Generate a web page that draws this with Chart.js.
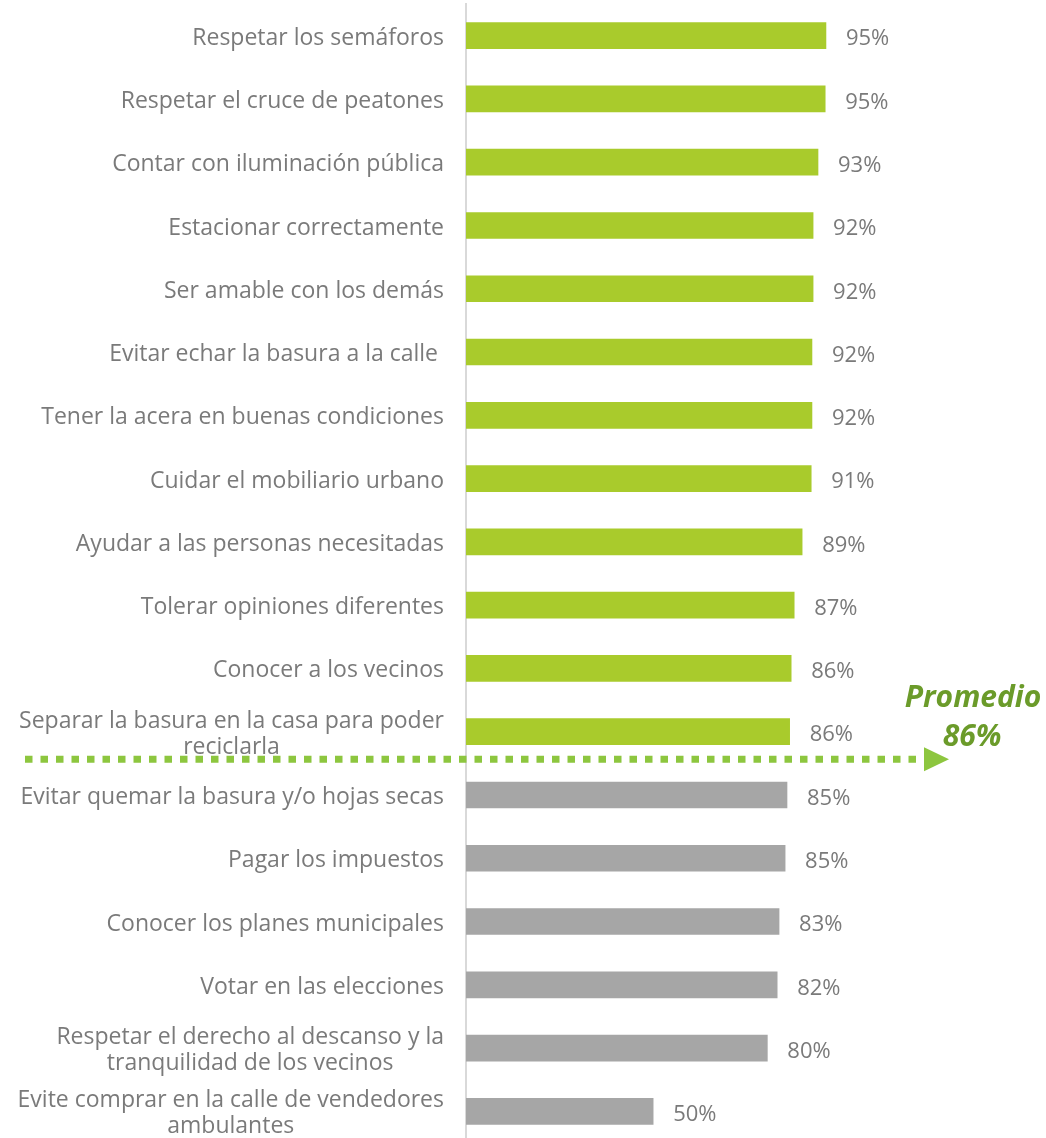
<!DOCTYPE html>
<html>
<head>
<meta charset="utf-8">
<script src="https://cdn.jsdelivr.net/npm/chart.js@4.4.1/dist/chart.umd.min.js"></script>
<style>
  html, body { margin: 0; padding: 0; background: #fff; overflow: hidden; }
  canvas { display: block; }
</style>
</head>
<body>
<canvas id="bar-civismo" width="1046" height="1143"></canvas>
<script>
const categories = [
  'Respetar los semáforos',
  'Respetar el cruce de peatones',
  'Contar con iluminación pública',
  'Estacionar correctamente',
  'Ser amable con los demás',
  'Evitar echar la basura a la calle ',
  'Tener la acera en buenas condiciones',
  'Cuidar el mobiliario urbano',
  'Ayudar a las personas necesitadas',
  'Tolerar opiniones diferentes',
  'Conocer a los vecinos',
  ['Separar la basura en la casa para poder', 'reciclarla'],
  'Evitar quemar la basura y/o hojas secas',
  'Pagar los impuestos',
  'Conocer los planes municipales',
  'Votar en las elecciones',
  ['Respetar el derecho al descanso y la', 'tranquilidad de los vecinos'],
  ['Evite comprar en la calle de vendedores', 'ambulantes']
];
const values = [95.2, 95.0, 93.1, 91.8, 91.8, 91.5, 91.5, 91.3, 88.9, 86.8, 86.0, 85.6, 84.9, 84.4, 82.8, 82.3, 79.7, 49.5];
const valueLabels = ['95%', '95%', '93%', '92%', '92%', '92%', '92%', '91%', '89%', '87%', '86%', '86%', '85%', '85%', '83%', '82%', '80%', '50%'];
const averageText = ['Promedio', '86%'];
const lastAboveAverage = 11; // index of last bar over the average line

const FONT = '"Open Sans", sans-serif';
const TEXT_GRAY = '#7a7a7a';

// category labels: right edge fixed, multi-line labels centred on their widest line
const categoryLabels = {
  id: 'categoryLabels',
  afterDraw(chart) {
    const ctx = chart.ctx;
    const yScale = chart.scales.y;
    const right = chart.chartArea.left - 22;
    ctx.save();
    ctx.font = '23px ' + FONT;
    ctx.fillStyle = TEXT_GRAY;
    ctx.textBaseline = 'middle';
    ctx.textAlign = 'center';
    categories.forEach((cat, i) => {
      const lines = Array.isArray(cat) ? cat : [cat];
      const w = Math.max(...lines.map(l => ctx.measureText(l).width));
      const cx = right - w / 2;
      const cy = yScale.getPixelForValue(i);
      const lh = 26;
      lines.forEach((l, j) => {
        ctx.fillText(l, cx, cy + (j - (lines.length - 1) / 2) * lh + 2.5);
      });
    });
    ctx.restore();
  }
};

const valueText = {
  id: 'valueText',
  afterDatasetsDraw(chart) {
    const ctx = chart.ctx;
    const meta = chart.getDatasetMeta(0);
    ctx.save();
    ctx.font = '22px ' + FONT;
    ctx.fillStyle = TEXT_GRAY;
    ctx.textBaseline = 'middle';
    ctx.textAlign = 'left';
    meta.data.forEach((bar, i) => {
      ctx.fillText(valueLabels[i], bar.x + 20, bar.y + 3.5);
    });
    ctx.restore();
  }
};

const averageLine = {
  id: 'averageLine',
  afterDatasetsDraw(chart) {
    const ctx = chart.ctx;
    const yScale = chart.scales.y;
    const y = (yScale.getPixelForValue(lastAboveAverage) + yScale.getPixelForValue(lastAboveAverage + 1)) / 2 - 4;
    const x0 = 25, x1 = 924;
    ctx.save();
    ctx.strokeStyle = '#8dc63f';
    ctx.fillStyle = '#8dc63f';
    ctx.lineWidth = 7;
    ctx.setLineDash([7.5, 8]);
    ctx.beginPath();
    ctx.moveTo(x0, y);
    ctx.lineTo(x1 - 4, y);
    ctx.stroke();
    ctx.setLineDash([]);
    ctx.beginPath();
    ctx.moveTo(x1, y - 12);
    ctx.lineTo(x1 + 25, y);
    ctx.lineTo(x1, y + 12);
    ctx.closePath();
    ctx.fill();

    ctx.font = 'italic bold 30px ' + FONT;
    ctx.fillStyle = '#6b9b2a';
    ctx.textAlign = 'center';
    ctx.textBaseline = 'middle';
    ctx.fillText(averageText[0], 973, y - 61);
    ctx.fillText(averageText[1], 972, y - 22);
    ctx.restore();
  }
};

new Chart(document.getElementById('bar-civismo'), {
  type: 'bar',
  data: {
    labels: categories,
    datasets: [{
      data: values,
      backgroundColor: (c) => c.dataIndex <= lastAboveAverage ? '#a9cb2c' : '#a6a6a6',
      barThickness: 26
    }]
  },
  options: {
    indexAxis: 'y',
    responsive: false,
    animation: false,
    layout: { padding: { left: 458, top: 4, right: 0, bottom: 0 } },
    scales: {
      x: { display: false, min: 0, max: 153.4 },
      y: {
        grid: { display: false },
        ticks: { display: false },
        border: { display: true, color: '#d9d9d9', width: 2 }
      }
    },
    plugins: {
      legend: { display: false },
      tooltip: { enabled: false }
    }
  },
  plugins: [categoryLabels, valueText, averageLine]
});
</script>
</body>
</html>
